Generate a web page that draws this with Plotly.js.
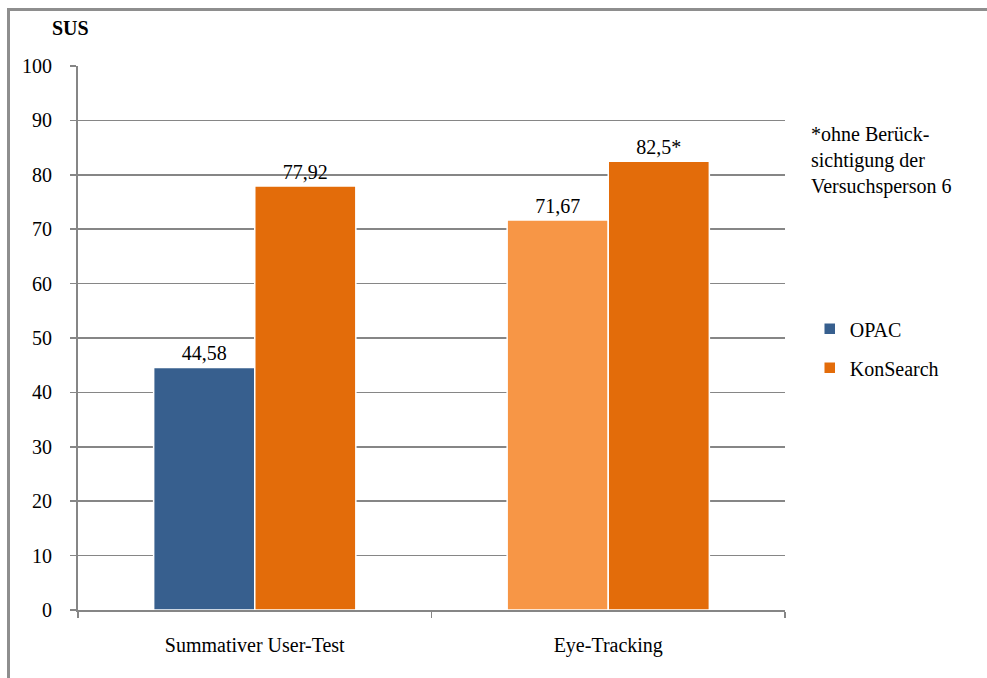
<!DOCTYPE html>
<html>
<head>
<meta charset="utf-8">
<script src="https://cdn.plot.ly/plotly-3.0.1.min.js"></script>
<style>
  html, body { margin: 0; padding: 0; background: #fff; }
  #wrap { position: relative; width: 987px; height: 678px; overflow: hidden; }
  #chart { position: absolute; left: 0; top: 0; width: 987px; height: 678px; }
  .bt { position: absolute; left: 7px; top: 8px; width: 990px; height: 3px; background: #8e8e8e; }
  .bl { position: absolute; left: 7px; top: 8px; width: 3px; height: 680px; background: #8e8e8e; }
</style>
</head>
<body>
<div id="wrap">
  <div id="chart"></div>
  <div class="bt"></div>
  <div class="bl"></div>
</div>
<script>
const categories = ["Summativer User-Test", "Eye-Tracking"];
const opacValues = [44.58, 71.67];
const konValues = [77.92, 82.5];
const opacLabels = ["44,58", "71,67"];
const konLabels = ["77,92", "82,5*"];
const opacColors = ["#375f8e", "#f79646"];
const konColors = ["#e36c0a", "#e36c0a"];
const yTicks = [0, 10, 20, 30, 40, 50, 60, 70, 80, 90, 100];

const font = "Liberation Serif";
const fs = 20;

const traces = [
  {
    type: "bar", name: "OPAC", x: categories, y: opacValues, legendgroup: "g1",
    text: opacLabels, textposition: "outside", cliponaxis: false,
    textfont: {family: font, size: fs, color: "#000"},
    marker: {color: opacColors, line: {color: "#ffffff", width: 1.5}},
    hoverinfo: "none"
  },
  {
    type: "bar", name: "KonSearch", x: categories, y: konValues, legendgroup: "g2",
    text: konLabels, textposition: "outside", cliponaxis: false,
    textfont: {family: font, size: fs, color: "#000"},
    marker: {color: konColors, line: {color: "#ffffff", width: 1.5}},
    hoverinfo: "none"
  }
];

const layout = {
  width: 987, height: 678,
  margin: {l: 78, r: 202, t: 66, b: 68},
  paper_bgcolor: "rgba(0,0,0,0)", plot_bgcolor: "#fff",
  font: {family: font, size: fs, color: "#000"},
  barmode: "group", bargap: 0.428, bargroupgap: 0,
  showlegend: true,
  legend: {
    x: 1.035, y: 0.481, xanchor: "left", yanchor: "middle",
    font: {family: font, size: fs, color: "#000"},
    itemwidth: 30, tracegroupgap: 10, bgcolor: "rgba(0,0,0,0)"
  },
  xaxis: {
    type: "category", tickson: "boundaries", ticks: "outside", ticklen: 6,
    tickcolor: "#868686", tickwidth: 1.5,
    showline: true, linecolor: "#868686", linewidth: 2,
    showgrid: false, zeroline: false, ticklabelstandoff: 16,
    tickfont: {family: font, size: fs, color: "#000"}
  },
  yaxis: {
    range: [0, 100], tickvals: yTicks, ticks: "outside", ticklen: 6,
    tickcolor: "#868686", tickwidth: 1.5,
    showline: true, linecolor: "#868686", linewidth: 2,
    showgrid: true, gridcolor: "#868686", gridwidth: 1.5, zeroline: false,
    ticklabelstandoff: 14,
    tickfont: {family: font, size: fs, color: "#000"}
  },
  annotations: [
    {
      text: "<b>SUS</b>", xref: "paper", yref: "paper", x: -0.011, y: 1.069,
      xanchor: "center", yanchor: "middle", showarrow: false,
      font: {family: font, size: fs, color: "#000"}
    },
    {
      text: "*ohne Berück-<br>sichtigung der<br>Versuchsperson 6",
      xref: "paper", yref: "paper", x: 1.034, y: 0.826,
      xanchor: "left", yanchor: "middle", align: "left", showarrow: false,
      font: {family: font, size: fs, color: "#000"}
    }
  ]
};

Plotly.newPlot("chart", traces, layout, {displayModeBar: false, staticPlot: true});
</script>
</body>
</html>
